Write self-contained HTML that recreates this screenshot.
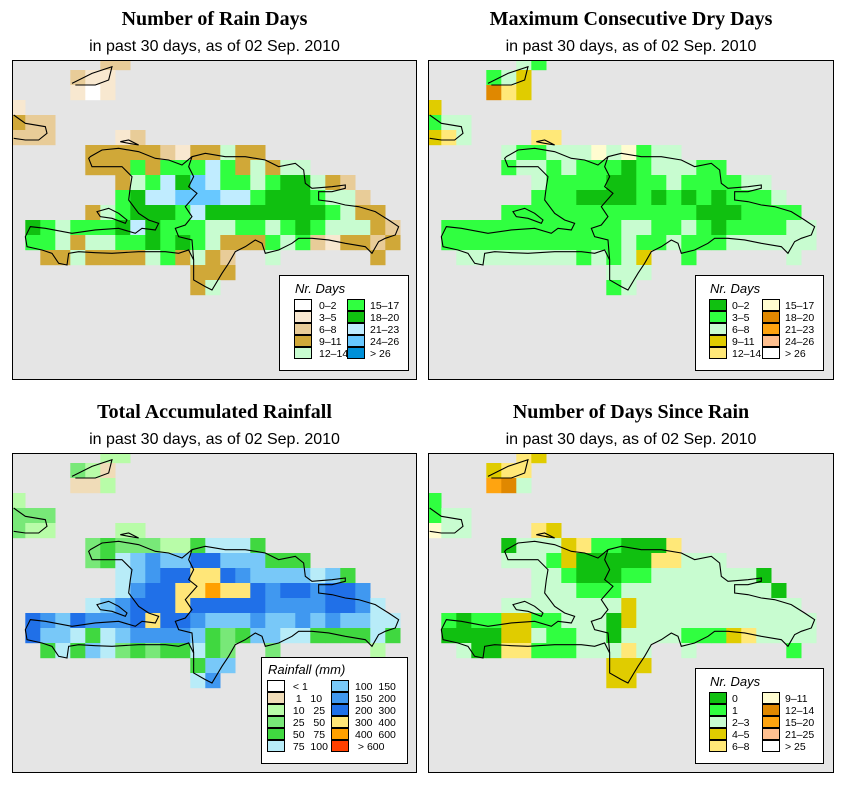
<!DOCTYPE html>
<html><head><meta charset="utf-8">
<style>
html,body{margin:0;padding:0;background:#fff;}
svg{display:block;}
.t{font-family:"Liberation Serif",serif;font-weight:bold;font-size:20px;}
.s{font-family:"Liberation Sans",sans-serif;font-size:16px;}
.l{font-family:"Liberation Sans",sans-serif;font-size:10.5px;white-space:pre;}
.lt{font-family:"Liberation Sans",sans-serif;font-size:13px;font-style:italic;}
</style></head>
<body>
<svg id="root" width="853" height="793" viewBox="0 0 853 793" xmlns="http://www.w3.org/2000/svg"></svg>
<script>
// ---- data: [row, startCol, codes] ----
const rainDaysRows = [
[-1,5,"22"],[0,3,"211"],[1,3,"101"],[2,-1,"1"],[3,-1,"322"],[4,-1,"222"],[4,6,"12"],
[5,4,"333332133433"],[6,4,"333535557534344"],[7,6,"3457687554566432"],
[8,6,"56778887756665442"],[9,4,"34566657666666665433"],[10,0,"6545556765554455456544432"],
[11,0,"5543445565654333545213323"],[12,1,"3343333453432..4......3"],[13,11,"333"],[14,11,"34"]];
const dryDaysRows = [
[-1,5,"21"],[0,3,"123"],[1,3,"643"],[2,-1,"3"],[3,-1,"122"],[4,-1,"342"],[4,6,"44"],
[5,4,"211222525122"],[6,4,"122121110122211"],[7,6,"2111100112111122"],
[8,6,"11100001010101112"],[9,4,"11111111111110001111"],[10,0,"1111111111112211210111122"],
[11,0,"1111111111112112111222222"],[12,1,"2222222212123..1......2"],[13,11,"222"],[14,11,"12"]];
const rainfallRows = [
[-1,5,"22"],[0,3,"321"],[1,3,"112"],[2,-1,"2"],[3,-1,"333"],[4,-1,"322"],[4,6,"22"],
[5,4,"343332245554"],[6,4,"345676688666444"],[7,6,"5678899876666564"],
[8,6,"578899A9987887887"],[9,4,"56788898888877778875"],[10,0,"8768777898876667667676655"],
[11,0,"8665456777764346655444454"],[12,1,"4546534344543..3......2"],[13,11,"466"],[14,11,"57"]];
const sinceRainRows = [
[-1,5,"43"],[0,3,"344"],[1,3,"762"],[2,-1,"1"],[3,-1,"122"],[4,-1,"522"],[4,6,"43"],
[5,4,"022234110004"],[6,4,"222130000044222"],[7,6,"2210001122222220"],
[8,6,"22211122222222220"],[9,4,"22222222322222222222"],[10,0,"1011331122203222222222222"],
[11,0,"0000332112202222111342222"],[12,1,"2004411122242..2......1"],[13,11,"333"],[14,11,"33"]];

const rainDaysColors = ["#ffffff","#f8e8d0","#e8cc98","#d0a838","#c8fcd0","#30ff40","#10c010","#c0ecff","#68c8ff","#0090d8"];
const rainDaysLabels = ["0–2","3–5","6–8","9–11","12–14","15–17","18–20","21–23","24–26","> 26"];
const dryColors = ["#10c010","#30ff40","#c8fcd0","#e0cc00","#ffe878","#fffcd0","#e08800","#ffa410","#ffc090","#ffffff"];
const dryLabels = ["0–2","3–5","6–8","9–11","12–14","15–17","18–20","21–23","24–26","> 26"];
const rainfallColors = ["#ffffff","#f0dcb8","#b8fca8","#78e878","#40d840","#b8ecf8","#78c8f8","#4098f0","#2070e8","#ffe678","#ffa000","#ff4000"];
const rainfallLabels = [" < 1","  1   10"," 10   25"," 25   50"," 50   75"," 75  100","100  150","150  200","200  300","300  400","400  600"," > 600"];
const sinceColors = ["#10c010","#30ff40","#c8fcd0","#e0cc00","#ffe878","#fffcd0","#e08800","#ffa410","#ffc090","#ffffff"];
const sinceLabels = ["0","1","2–3","4–5","6–8","9–11","12–14","15–20","21–25","> 25"];

const NS="http://www.w3.org/2000/svg";
const root=document.getElementById('root');
function mk(tag,attrs,parent){const e=document.createElementNS(NS,tag);for(const k in attrs)e.setAttribute(k,attrs[k]);(parent||root).appendChild(e);return e;}

const hisp="M235,290 L270,270 320,265 380,275 430,295 470,300 510,315 540,290 580,280 640,290 700,290 760,300 800,320 850,310 875,330 880,370 900,385 960,380 1000,375 1000,385 960,395 920,395 920,420 960,425 1000,435 1040,440 1090,455 1130,480 1160,500 1150,525 1120,535 1100,545 1080,580 1060,560 1000,550 950,540 900,535 860,535 840,550 800,570 760,580 750,550 730,540 700,560 670,575 650,610 630,640 600,690 580,680 545,660 545,600 530,570 500,580 460,575 380,575 300,580 250,578 200,575 170,580 165,615 140,610 120,580 90,570 45,560 40,530 55,500 100,505 180,520 250,510 320,505 370,520 390,505 430,510 440,490 410,480 380,460 350,420 355,380 360,350 330,320 290,320 240,320 230,295 Z";
const border="M540,290 L530,320 545,350 530,380 555,400 520,440 540,470 520,495 490,505 500,530 540,540 545,600";
const gonave="M255,455 L290,445 320,460 345,480 340,490 300,475 265,470 Z";
const tortuga="M325,245 L350,240 380,255 350,250 Z";
const turks="M180,70 L240,40 300,20 290,60 250,75 190,75";
const cuba="M5,165 L40,190 100,200 105,220 80,240 40,240 5,235";

const panels=[
 {x:12,y:60,w:405,h:320,title:"Number of Rain Days",rows:rainDaysRows,colors:rainDaysColors,labels:rainDaysLabels,
  leg:{x:279,y:275,w:129,h:95,title:"Nr. Days",sx1:294,sx2:347,lx1:319,lx2:370,sy:299,n:5},name:"rain-days"},
 {x:428,y:60,w:406,h:320,title:"Maximum Consecutive Dry Days",rows:dryDaysRows,colors:dryColors,labels:dryLabels,
  leg:{x:695,y:275,w:128,h:95,title:"Nr. Days",sx1:709,sx2:762,lx1:732,lx2:785,sy:299,n:5},name:"dry-days"},
 {x:12,y:453,w:405,h:320,title:"Total Accumulated Rainfall",rows:rainfallRows,colors:rainfallColors,labels:rainfallLabels,
  leg:{x:261,y:657,w:146,h:106,title:"Rainfall (mm)",sx1:267,sx2:331,lx1:290,lx2:355,sy:680,n:6},name:"rainfall"},
 {x:428,y:453,w:406,h:320,title:"Number of Days Since Rain",rows:sinceRainRows,colors:sinceColors,labels:sinceLabels,
  leg:{x:695,y:668,w:128,h:95,title:"Nr. Days",sx1:709,sx2:762,lx1:732,lx2:785,sy:692,n:5},name:"days-since-rain"}
];

panels.forEach((p,pi)=>{
  const cx=p.x+p.w/2;
  const t=mk('text',{x:cx,y:p.y-35,'text-anchor':'middle',class:'t'});t.textContent=p.title;
  
  
  const s=mk('text',{x:cx,y:p.y-9,'text-anchor':'middle',class:'s'});s.textContent="in past 30 days, as of  02 Sep. 2010";
  
  
  const clip=mk('clipPath',{id:'c'+pi});mk('rect',{x:p.x,y:p.y,width:p.w,height:p.h},clip);
  const g=mk('g',{'clip-path':'url(#c'+pi+')'});
  
  
  mk('rect',{x:p.x,y:p.y,width:p.w,height:p.h,fill:'#e5e5e5'},g);
  p.rows.forEach(([r,c0,codes])=>{
    for(let i=0;i<codes.length;i++){
      const ch=codes[i]; if(ch==='.')continue;
      const v=parseInt(ch,16); const c=c0+i;
      const cell=mk('rect',{x:(p.x+13.3+15*c).toFixed(1),y:(p.y+10+15*r).toFixed(1),width:15.2,height:15.2,fill:p.colors[v]},g);
      
      
    }
  });
  const cg=mk('g',{transform:`translate(${p.x},${p.y}) scale(0.3333)`,fill:'none',stroke:'#000','stroke-width':3.3},g);
  
  
  [hisp,border,gonave,tortuga,turks,cuba].forEach(d=>mk('path',{d:d},cg));
  const fr=mk('rect',{x:p.x+0.5,y:p.y+0.5,width:p.w-1,height:p.h-1,fill:'none',stroke:'#000','stroke-width':1});
  
  
  const L=p.leg;
  const lg=mk('g',{});
  
  
  mk('rect',{x:L.x+0.5,y:L.y+0.5,width:L.w,height:L.h,fill:'#fff',stroke:'#000','stroke-width':1},lg);
  const lt=mk('text',{x:L.sx1+1,y:L.sy-6,class:'lt'},lg);lt.textContent=L.title;
  p.colors.forEach((col,i)=>{
    const colIdx=Math.floor(i/L.n), rowIdx=i%L.n;
    const sx=colIdx?L.sx2:L.sx1, lx=colIdx?L.lx2:L.lx1;
    const sw=mk('rect',{x:sx+0.5,y:L.sy+rowIdx*12+0.5,width:17,height:11,fill:col,stroke:'#000','stroke-width':1},lg);
    
    
    const tx=mk('text',{x:lx,y:L.sy+rowIdx*12+10,class:'l'},lg);
    tx.textContent=p.labels[i];
    
    
  });
});
</script>
</body></html>
